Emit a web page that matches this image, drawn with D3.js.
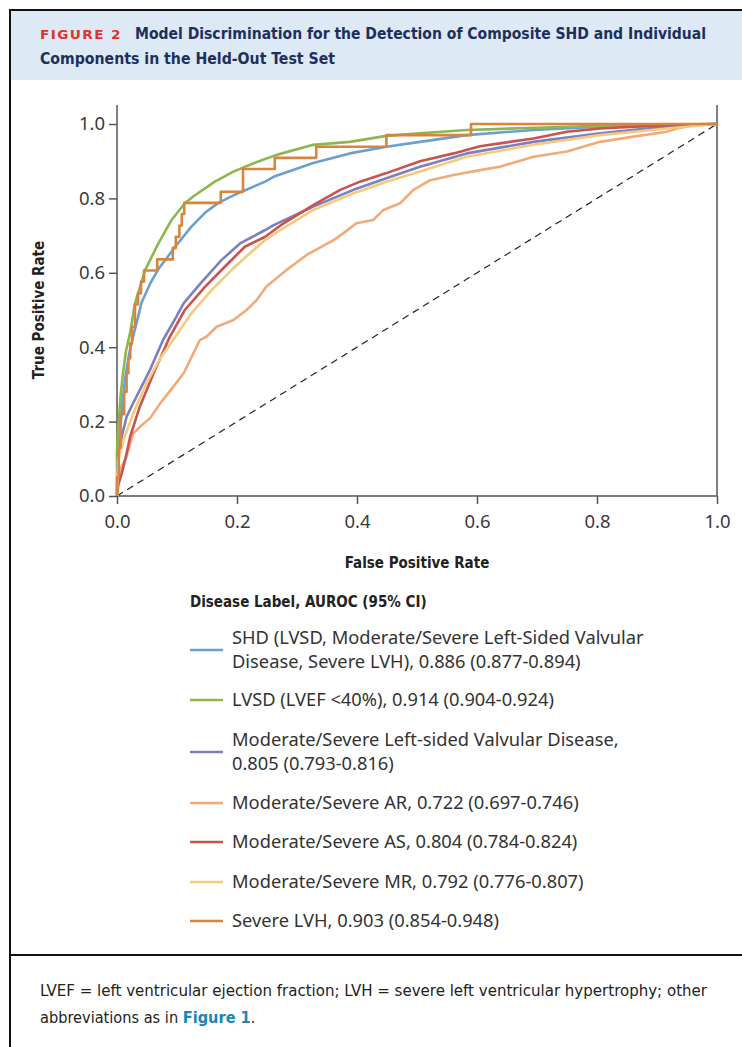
<!DOCTYPE html>
<html>
<head>
<meta charset="utf-8">
<script src="https://cdn.jsdelivr.net/npm/d3@7"></script>
<style>
  html, body { margin: 0; padding: 0; background: #fff; }
  svg { display: block; }
  .cond { font-family: 'DejaVu Sans Condensed', 'DejaVu Sans', sans-serif; font-stretch: condensed; }
  .body { font-family: 'Noto Sans', 'Open Sans', sans-serif; }
</style>
</head>
<body>
<script>
// ROC points, [false positive rate, true positive rate]
const shd = [[0, 0], [0.002, 0.08], [0.005, 0.17], [0.009, 0.25], [0.014, 0.32], [0.02, 0.38], [0.027, 0.43], [0.035, 0.48], [0.041, 0.52], [0.055, 0.57], [0.069, 0.61], [0.083, 0.64], [0.097, 0.67], [0.124, 0.724], [0.147, 0.762], [0.169, 0.788], [0.202, 0.814], [0.247, 0.845], [0.261, 0.858], [0.327, 0.895], [0.388, 0.921], [0.449, 0.939], [0.505, 0.952], [0.583, 0.97], [0.694, 0.984], [0.805, 0.993], [0.916, 0.997], [1, 1]];
const lvsd = [[0, 0], [0, 0.12], [0.003, 0.2], [0.006, 0.27], [0.01, 0.33], [0.015, 0.39], [0.022, 0.44], [0.03, 0.518], [0.047, 0.608], [0.069, 0.679], [0.091, 0.742], [0.113, 0.787], [0.127, 0.805], [0.163, 0.845], [0.194, 0.872], [0.232, 0.897], [0.266, 0.917], [0.327, 0.944], [0.388, 0.952], [0.449, 0.968], [0.505, 0.975], [0.583, 0.984], [0.7, 0.99], [0.805, 0.995], [0.9, 0.998], [1, 1]];
const valvular = [[0, 0], [0.001, 0.08], [0.003, 0.12], [0.008, 0.16], [0.016, 0.213], [0.027, 0.25], [0.038, 0.285], [0.055, 0.339], [0.077, 0.42], [0.099, 0.482], [0.111, 0.518], [0.141, 0.575], [0.155, 0.6], [0.174, 0.634], [0.205, 0.679], [0.247, 0.715], [0.261, 0.728], [0.327, 0.778], [0.394, 0.823], [0.449, 0.854], [0.505, 0.885], [0.583, 0.921], [0.694, 0.952], [0.805, 0.975], [0.916, 0.993], [1, 1]];
const ar = [[0, 0], [0.001, 0.016], [0.005, 0.07], [0.016, 0.106], [0.027, 0.168], [0.041, 0.19], [0.055, 0.209], [0.072, 0.249], [0.094, 0.294], [0.111, 0.33], [0.122, 0.366], [0.138, 0.419], [0.149, 0.428], [0.166, 0.455], [0.194, 0.473], [0.216, 0.5], [0.233, 0.527], [0.249, 0.563], [0.283, 0.608], [0.316, 0.648], [0.361, 0.688], [0.377, 0.706], [0.399, 0.733], [0.427, 0.742], [0.444, 0.769], [0.472, 0.787], [0.494, 0.823], [0.522, 0.849], [0.561, 0.863], [0.605, 0.876], [0.638, 0.885], [0.694, 0.912], [0.75, 0.926], [0.805, 0.952], [0.861, 0.966], [0.916, 0.979], [0.933, 0.988], [0.972, 1], [1, 1]];
const as = [[0, 0], [0.002, 0.03], [0.008, 0.061], [0.014, 0.1], [0.022, 0.16], [0.038, 0.24], [0.061, 0.33], [0.088, 0.428], [0.113, 0.5], [0.147, 0.563], [0.18, 0.617], [0.213, 0.67], [0.247, 0.697], [0.273, 0.728], [0.327, 0.782], [0.372, 0.823], [0.405, 0.845], [0.449, 0.868], [0.505, 0.9], [0.561, 0.921], [0.605, 0.94], [0.638, 0.948], [0.694, 0.961], [0.75, 0.979], [0.805, 0.988], [0.916, 0.997], [1, 1]];
const mr = [[0, 0], [0.001, 0.06], [0.002, 0.097], [0.011, 0.151], [0.027, 0.222], [0.049, 0.303], [0.072, 0.37], [0.099, 0.432], [0.124, 0.491], [0.158, 0.554], [0.191, 0.608], [0.224, 0.656], [0.247, 0.688], [0.272, 0.715], [0.327, 0.769], [0.394, 0.814], [0.449, 0.845], [0.505, 0.872], [0.583, 0.912], [0.694, 0.944], [0.805, 0.97], [0.916, 0.988], [1, 1]];
// severe LVH has few positives, so its curve is a staircase
const lvh = [[0, 0], [0, 0.05], [0.003, 0.05], [0.003, 0.13], [0.006, 0.13], [0.006, 0.22], [0.012, 0.22], [0.012, 0.28], [0.016, 0.28], [0.016, 0.33], [0.019, 0.33], [0.019, 0.37], [0.022, 0.37], [0.022, 0.41], [0.025, 0.41], [0.025, 0.455], [0.03, 0.455], [0.03, 0.515], [0.035, 0.515], [0.035, 0.545], [0.04, 0.545], [0.04, 0.576], [0.045, 0.576], [0.045, 0.606], [0.067, 0.606], [0.067, 0.636], [0.093, 0.636], [0.093, 0.667], [0.098, 0.667], [0.098, 0.697], [0.104, 0.697], [0.104, 0.727], [0.108, 0.727], [0.108, 0.758], [0.112, 0.758], [0.112, 0.788], [0.173, 0.788], [0.173, 0.818], [0.21, 0.818], [0.21, 0.879], [0.263, 0.879], [0.263, 0.909], [0.332, 0.909], [0.332, 0.939], [0.449, 0.939], [0.449, 0.97], [0.59, 0.97], [0.59, 1], [1, 1]];

const seriesData = [shd, lvsd, valvular, ar, as, mr, lvh];
const seriesLabels = [
  ['SHD (LVSD, Moderate/Severe Left-Sided Valvular', 'Disease, Severe LVH), 0.886 (0.877-0.894)'],
  ['LVSD (LVEF <40%), 0.914 (0.904-0.924)'],
  ['Moderate/Severe Left-sided Valvular Disease,', '0.805 (0.793-0.816)'],
  ['Moderate/Severe AR, 0.722 (0.697-0.746)'],
  ['Moderate/Severe AS, 0.804 (0.784-0.824)'],
  ['Moderate/Severe MR, 0.792 (0.776-0.807)'],
  ['Severe LVH, 0.903 (0.854-0.948)'],
];
const seriesColors = ['#6a9fd0', '#8cb650', '#7c80bf', '#f1ab78', '#c9534f', '#f6ca7c', '#d8843d'];
const tickValues = [0, 0.2, 0.4, 0.6, 0.8, 1.0];

const W = 742;
const H = 1047;
const plot = { left: 117, right: 717, top: 124, bottom: 496, spineTop: 105 };

const svg = d3.select('body').append('svg').attr('width', W).attr('height', H);

// frame and header band
svg.append('rect').attr('x', 11).attr('y', 11).attr('width', W - 11).attr('height', 69).attr('fill', '#dde9f5');
svg.append('path').attr('d', `M10,${H} V10 H${W}`).attr('fill', 'none').attr('stroke', '#111').attr('stroke-width', 2);
svg.append('line').attr('x1', 10).attr('x2', W).attr('y1', 955).attr('y2', 955).attr('stroke', '#111').attr('stroke-width', 2);

const title = svg.append('g').attr('class', 'cond').attr('font-weight', 'bold');
title.append('text').attr('x', 40).attr('y', 39).attr('fill', '#e3322c').attr('font-size', 13)
  .attr('letter-spacing', 1.2).attr('textLength', 82).attr('lengthAdjust', 'spacingAndGlyphs').text('FIGURE 2');
title.append('text').attr('x', 135).attr('y', 39).attr('fill', '#1d2f5d').attr('font-size', 15)
  .attr('textLength', 571).attr('lengthAdjust', 'spacingAndGlyphs')
  .text('Model Discrimination for the Detection of Composite SHD and Individual');
title.append('text').attr('x', 40).attr('y', 64).attr('fill', '#1d2f5d').attr('font-size', 15)
  .attr('textLength', 295).attr('lengthAdjust', 'spacingAndGlyphs')
  .text('Components in the Held-Out Test Set');

const x = d3.scaleLinear().domain([0, 1]).range([plot.left, plot.right]);
const y = d3.scaleLinear().domain([0, 1]).range([plot.bottom, plot.top]);

const xAxis = svg.append('g')
  .attr('transform', `translate(0, ${plot.bottom})`)
  .call(d3.axisBottom(x).tickValues(tickValues).tickFormat(d3.format('.1f')).tickSize(8).tickSizeOuter(0).tickPadding(11));
const yAxis = svg.append('g')
  .attr('transform', `translate(${plot.left}, 0)`)
  .call(d3.axisLeft(y).tickValues(tickValues).tickFormat(d3.format('.1f')).tickSize(8).tickSizeOuter(0).tickPadding(4));

[xAxis, yAxis].forEach((g) => {
  g.select('.domain').remove();
  g.selectAll('.tick line').attr('stroke', '#555').attr('stroke-width', 1.5);
  g.selectAll('.tick text').attr('class', 'body').attr('font-size', 18.5).attr('fill', '#3a3a3a');
});

// spines
svg.append('path')
  .attr('d', `M${plot.left},${plot.spineTop} V${plot.bottom} H${plot.right} V${plot.spineTop}`)
  .attr('fill', 'none').attr('stroke', '#555').attr('stroke-width', 1.5);

// chance line
svg.append('line')
  .attr('x1', x(0)).attr('y1', y(0)).attr('x2', x(1)).attr('y2', y(1))
  .attr('stroke', '#222').attr('stroke-width', 1.2).attr('stroke-dasharray', '7,5');

const line = d3.line().x(d => x(d[0])).y(d => y(d[1]));

svg.append('g').selectAll('path')
  .data(seriesData)
  .enter()
  .append('path')
  .attr('d', line)
  .attr('fill', 'none')
  .attr('stroke', (d, i) => seriesColors[i])
  .attr('stroke-width', 2.6)
  .attr('stroke-linejoin', 'round');

svg.append('text').attr('class', 'cond').attr('font-weight', 'bold').attr('font-size', 15).attr('fill', '#222')
  .attr('text-anchor', 'middle').attr('transform', `translate(44, ${(plot.top + plot.bottom) / 2}) rotate(-90)`)
  .text('True Positive Rate');
svg.append('text').attr('class', 'cond').attr('font-weight', 'bold').attr('font-size', 15).attr('fill', '#222')
  .attr('text-anchor', 'middle').attr('x', (plot.left + plot.right) / 2).attr('y', 568)
  .text('False Positive Rate');

// legend
const legend = svg.append('g').attr('transform', 'translate(190, 0)');
legend.append('text').attr('class', 'cond').attr('font-weight', 'bold').attr('font-size', 15).attr('fill', '#222')
  .attr('y', 607).text('Disease Label, AUROC (95% CI)');

const legendY = [650, 700, 752, 803, 842, 882, 921];
const items = legend.selectAll('.item')
  .data(seriesLabels)
  .enter()
  .append('g')
  .attr('class', 'item')
  .attr('transform', (d, i) => `translate(0, ${legendY[i]})`);

items.append('line').attr('x1', 0).attr('x2', 33)
  .attr('stroke', (d, i) => seriesColors[i]).attr('stroke-width', 2.6);

items.each(function (lines) {
  const g = d3.select(this);
  const offset = lines.length > 1 ? -12 : 0;
  lines.forEach((t, j) => {
    g.append('text').attr('class', 'body').attr('x', 42).attr('y', offset + j * 24).attr('dy', '0.35em')
      .attr('font-size', 18.3).attr('fill', '#333').text(t);
  });
});

// footnote
const foot = svg.append('g').attr('class', 'cond').attr('font-size', 15.5).attr('fill', '#222');
foot.append('text').attr('x', 40).attr('y', 996).attr('textLength', 667).attr('lengthAdjust', 'spacingAndGlyphs')
  .text('LVEF = left ventricular ejection fraction; LVH = severe left ventricular hypertrophy; other');
const foot2 = foot.append('text').attr('x', 40).attr('y', 1023).attr('font-size', 16.2);
foot2.append('tspan').text('abbreviations as in ');
foot2.append('tspan').attr('font-weight', 'bold').attr('fill', '#1a86b8').text('Figure 1');
foot2.append('tspan').text('.');
</script>
</body>
</html>
